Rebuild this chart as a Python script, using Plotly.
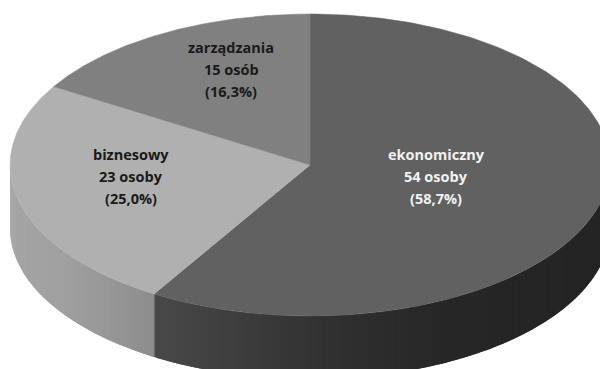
import numpy as np
import plotly.graph_objects as go

# Survey breakdown
categories = ["ekonomiczny", "biznesowy", "zarządzania"]
counts = [54, 23, 15]
count_labels = ["54 osoby", "23 osoby", "15 osób"]
percent_labels = ["(58,7%)", "(25,0%)", "(16,3%)"]

# Disc geometry in pixel-like axis units
CX, CY, RX, RY, DEPTH = 310, 165, 300, 151, 63
LINE_GAP = 22

top_colors = ["#616161", "#b0b0b0", "#808080"]
text_colors = ["#f2f2f2", "#1a1a1a", "#1a1a1a"]
label_centres = [(436, 176), (131, 176), (231, 69)]

# Grey ramp of the rim for each visible wedge, as (x position, grey level) stops
rim_ramps = {
    0: ([155, 230, 330, 450, 600], [72, 62, 48, 38, 36]),
    1: ([10, 60, 110, 155], [165, 160, 150, 140]),
}


def ellipse(theta):
    return CX + RX * np.sin(theta), CY - RY * np.cos(theta)


fractions = np.array(counts) / sum(counts)
edges = np.concatenate([[0], np.cumsum(fractions)]) * 2 * np.pi

fig = go.Figure()

# Rim: strips painted right to left, each reaching back under its neighbour's
# edge so no seams show between them
rim_ranges = {0: (np.pi / 2, edges[1]), 1: (edges[1], 3 * np.pi / 2)}
for wedge, (start, stop) in rim_ranges.items():
    stops_x, stops_grey = rim_ramps[wedge]
    grid = np.linspace(start, stop, int((stop - start) * 90) + 2)
    for j in range(len(grid) - 1):
        a, b = grid[max(j - 1, 0)], grid[j + 1]
        arc = np.linspace(a, b, 6)
        ax, ay = ellipse(arc)
        mid_x, _ = ellipse((grid[j] + grid[j + 1]) / 2)
        level = int(round(np.interp(mid_x, stops_x, stops_grey)))
        fig.add_trace(go.Scatter(
            x=np.concatenate([ax, ax[::-1], ax[:1]]),
            y=np.concatenate([ay, ay[::-1] + DEPTH, ay[:1]]),
            mode="lines", fill="toself",
            fillcolor=f"rgb({level},{level},{level})",
            line=dict(width=0), hoverinfo="skip",
        ))

# Top face wedges
for i, colour in enumerate(top_colors):
    theta = np.linspace(edges[i], edges[i + 1], 200)
    ex, ey = ellipse(theta)
    fig.add_trace(go.Scatter(
        x=np.concatenate([[CX], ex, [CX]]),
        y=np.concatenate([[CY], ey, [CY]]),
        mode="lines", fill="toself", fillcolor=colour,
        line=dict(color=colour, width=0.5), name=categories[i], hoverinfo="name",
    ))

# Three-line label on each wedge
for name, cnt, pct, (lx, ly), tc in zip(
    categories, count_labels, percent_labels, label_centres, text_colors
):
    for offset, line in zip((-LINE_GAP, 0, LINE_GAP), (name, cnt, pct)):
        fig.add_annotation(
            x=lx, y=ly + offset, text=f"<b>{line}</b>", showarrow=False,
            font=dict(family="Open Sans", size=14.5, color=tc),
        )

fig.update_layout(
    width=600, height=369, margin=dict(l=0, r=0, t=0, b=0),
    paper_bgcolor="white", plot_bgcolor="white", showlegend=False,
    xaxis=dict(range=[0, 600], visible=False, fixedrange=True),
    yaxis=dict(range=[369, 0], visible=False, fixedrange=True),
)
fig.write_html("out.html", config={"displayModeBar": False})
